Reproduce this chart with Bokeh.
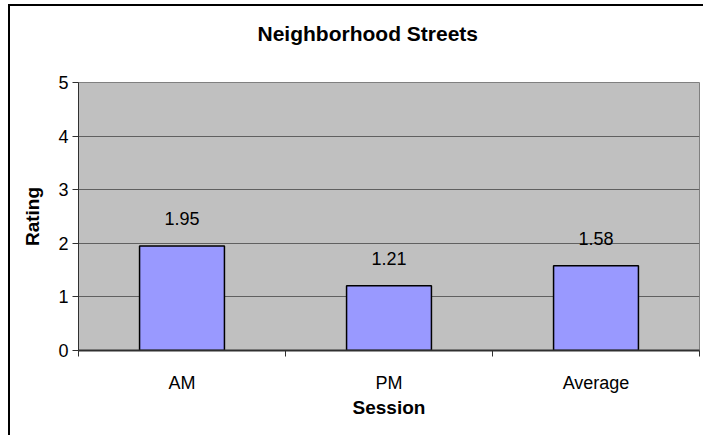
from bokeh.plotting import figure
from bokeh.models import ColumnDataSource, Range1d, FixedTicker, LabelSet, Title
from bokeh.core.properties import value
from bokeh.embed import file_html
from bokeh.resources import INLINE

categories = ["AM", "PM", "Average"]
ratings = [1.95, 1.21, 1.58]
rating_labels = ["1.95", "1.21", "1.58"]
y_ticks = [0, 1, 2, 3, 4, 5]
chart_title = "Neighborhood Streets"

FONT = "Liberation Sans"

positions = [i + 0.5 for i in range(len(categories))]
boundaries = [float(i) for i in range(len(categories) + 1)]
src = ColumnDataSource(dict(x=positions, top=ratings, label=rating_labels))

p = figure(width=695, height=431,
           x_range=Range1d(0, len(categories)), y_range=Range1d(0, 5),
           output_backend="svg", toolbar_location=None,
           min_border_left=68, min_border_right=6, min_border_top=76, min_border_bottom=87)
p.styles = {"border-left": "2px solid black", "border-top": "2px solid black",
            "margin-left": "8px", "margin-top": "4px"}

# spacer between frame and title
p.add_layout(Title(text=" ", text_font_size="1px", standoff=21), "above")
p.add_layout(Title(text=chart_title, text_font=FONT, text_font_size="21px",
                   text_font_style="bold", text_color="black",
                   align="left", offset=179, standoff=27), "above")

p.background_fill_color = "#C0C0C0"
p.border_fill_color = "white"
p.outline_line_color = "#808080"
p.outline_line_width = 1

p.vbar(x="x", top="top", width=0.41, source=src,
       fill_color="#9999FF", line_color="black", line_width=1.5)

labels = LabelSet(x="x", y="top", text="label", source=src, text_align="center",
                  text_baseline="alphabetic", y_offset=21, text_font=value(FONT),
                  text_font_size=value("18px"), text_color="black")
p.add_layout(labels)

# x axis
xa = p.xaxis[0]
xa.ticker = FixedTicker(ticks=positions, minor_ticks=boundaries)
xa.major_label_overrides = {pos: cat for pos, cat in zip(positions, categories)}
xa.major_tick_out = 0
xa.major_tick_in = 0
xa.minor_tick_out = 6
xa.minor_tick_in = 0
xa.minor_tick_line_color = "#303030"
xa.axis_line_color = "#303030"
xa.axis_line_width = 2
xa.major_label_standoff = 16
xa.major_label_text_font = FONT
xa.major_label_text_font_size = "18px"
xa.major_label_text_color = "black"
xa.axis_label = "Session"
xa.axis_label_text_font = FONT
xa.axis_label_text_font_size = "19px"
xa.axis_label_text_font_style = "bold"
xa.axis_label_text_color = "black"
xa.axis_label_standoff = 1

# y axis
ya = p.yaxis[0]
ya.ticker = FixedTicker(ticks=y_ticks, minor_ticks=[])
ya.major_tick_out = 6
ya.major_tick_in = 0
ya.major_tick_line_color = "#303030"
ya.minor_tick_line_color = None
ya.axis_line_color = "#303030"
ya.major_label_standoff = 4
ya.major_label_text_font = FONT
ya.major_label_text_font_size = "18px"
ya.major_label_text_color = "black"
ya.axis_label = "Rating"
ya.axis_label_text_font = FONT
ya.axis_label_text_font_size = "19px"
ya.axis_label_text_font_style = "bold"
ya.axis_label_text_color = "black"
ya.axis_label_standoff = 12

p.xgrid.visible = False
p.ygrid.ticker = FixedTicker(ticks=y_ticks)
p.ygrid.grid_line_color = "#606060"
p.ygrid.grid_line_width = 1

open("out.html", "w").write(file_html(p, INLINE))
